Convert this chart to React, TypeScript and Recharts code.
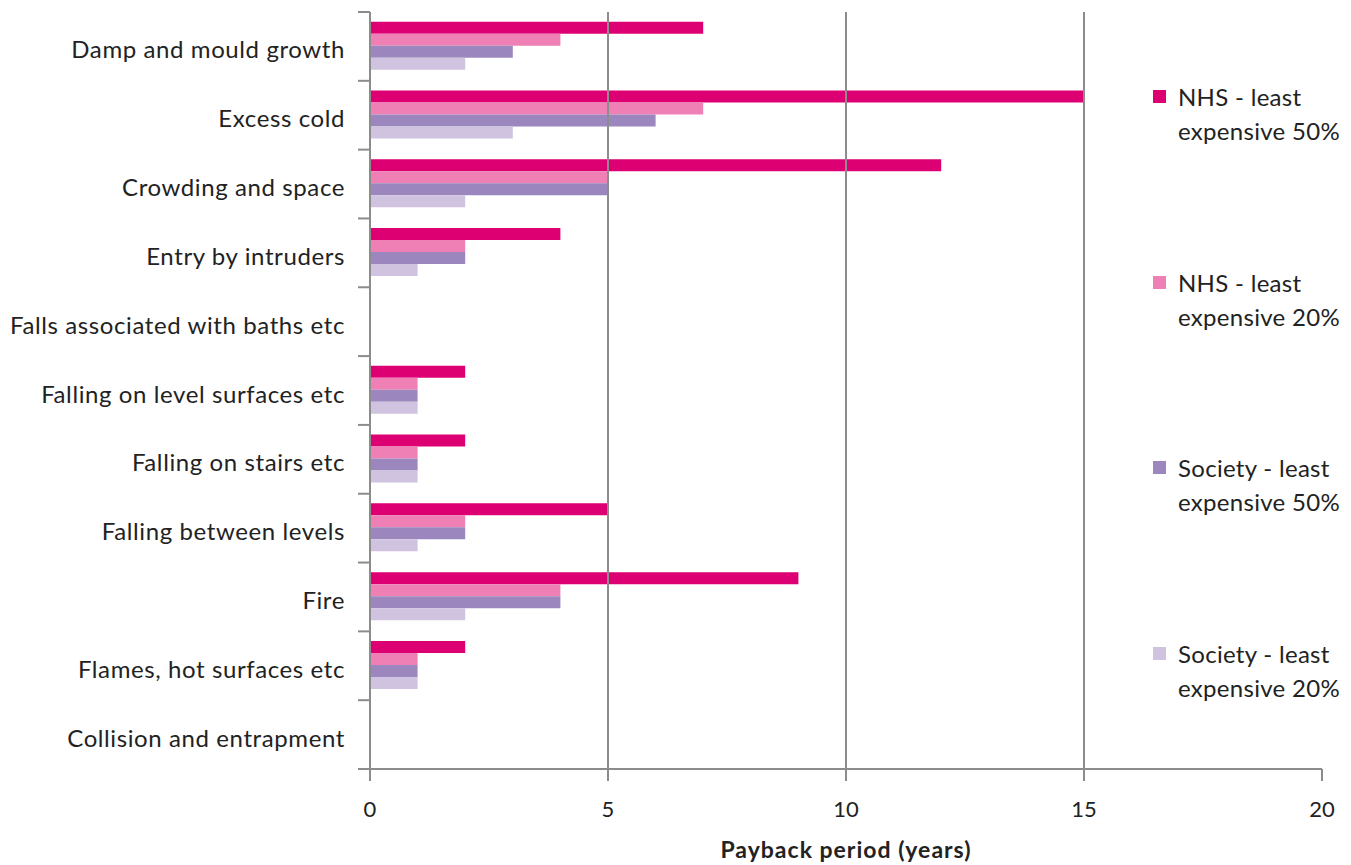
import { BarChart, Bar, XAxis, YAxis, ReferenceLine } from "recharts";

const categories = [
  "Damp and mould growth",
  "Excess cold",
  "Crowding and space",
  "Entry by intruders",
  "Falls associated with baths etc",
  "Falling on level surfaces etc",
  "Falling on stairs etc",
  "Falling between levels",
  "Fire",
  "Flames, hot surfaces etc",
  "Collision and entrapment",
];

const nhs50 = [7, 15, 12, 4, 0, 2, 2, 5, 9, 2, 0];
const nhs20 = [4, 7, 5, 2, 0, 1, 1, 2, 4, 1, 0];
const society50 = [3, 6, 5, 2, 0, 1, 1, 2, 4, 1, 0];
const society20 = [2, 3, 2, 1, 0, 1, 1, 1, 2, 1, 0];

const xTicks = [0, 5, 10, 15, 20];
const gridValues = [5, 10, 15];

const series = [
  { key: "nhs50", first: "NHS - least", second: "expensive 50%", color: "#dd0073" },
  { key: "nhs20", first: "NHS - least", second: "expensive 20%", color: "#ee80b5" },
  { key: "society50", first: "Society - least", second: "expensive 50%", color: "#9c86be" },
  { key: "society20", first: "Society - least", second: "expensive 20%", color: "#d0c3e0" },
];

const data = categories.map((name, i) => ({
  name,
  nhs50: nhs50[i],
  nhs20: nhs20[i],
  society50: society50[i],
  society20: society20[i],
}));

const W = 1351;
const H = 865;
const TOP = 12;
const X_AXIS_H = 96;
const PLOT_H = H - TOP - X_AXIS_H;
const BAND = PLOT_H / categories.length;
const FONT = "Lato, 'Open Sans', sans-serif";
const AXIS = "#8c8c8c";
const TEXT = "#222";

function CategoryTick(props: any) {
  const { x, y, payload, index } = props;
  const last = index === categories.length - 1;
  return (
    <g>
      <line x1={x - 12} x2={x} y1={y - BAND / 2} y2={y - BAND / 2} stroke={AXIS} strokeWidth={2} />
      {last && (
        <line x1={x - 12} x2={x} y1={y + BAND / 2} y2={y + BAND / 2} stroke={AXIS} strokeWidth={2} />
      )}
      <text
        x={x - 25}
        y={y}
        dy="0.5em"
        textAnchor="end"
        fill={TEXT}
        fontSize={24}
        letterSpacing={0.6}
        fontFamily={FONT}
      >
        {payload.value}
      </text>
    </g>
  );
}

export default function App() {
  return (
    <div style={{ position: "absolute", left: 0, top: 0, width: W, height: H, background: "#fff" }}>
      <BarChart
        width={W}
        height={H}
        data={data}
        layout="vertical"
        margin={{ top: TOP, right: 29, bottom: 0, left: 0 }}
        barCategoryGap="14%"
        barGap={0}
      >
        {gridValues.map((v) => (
          <ReferenceLine key={v} x={v} stroke={AXIS} strokeWidth={2} />
        ))}
        <XAxis
          type="number"
          domain={[0, 20]}
          ticks={xTicks}
          height={X_AXIS_H}
          tickSize={12}
          tickMargin={20}
          axisLine={{ stroke: AXIS, strokeWidth: 2 }}
          tickLine={{ stroke: AXIS, strokeWidth: 2 }}
          tick={{ fill: TEXT, fontSize: 22, fontFamily: FONT }}
          label={{
            value: "Payback period (years)",
            position: "insideBottom",
            offset: 7,
            fill: TEXT,
            fontSize: 23,
            fontWeight: "bold",
            letterSpacing: 1,
            fontFamily: FONT,
          }}
        />
        <YAxis
          type="category"
          dataKey="name"
          width={370}
          tickSize={0}
          tickMargin={0}
          tickLine={false}
          axisLine={{ stroke: AXIS, strokeWidth: 2 }}
          tick={<CategoryTick />}
          interval={0}
        />
        {series.map((s) => (
          <Bar
            key={s.key}
            dataKey={s.key}
            name={`${s.first} ${s.second}`}
            fill={s.color}
            isAnimationActive={false}
          />
        ))}
      </BarChart>
      {series.map((s, i) => (
        <div
          key={s.key}
          style={{
            position: "absolute",
            left: 1153,
            top: 80 + i * 185.5,
            fontFamily: FONT,
            fontSize: 24,
            letterSpacing: 0.3,
            lineHeight: "34px",
            color: TEXT,
            whiteSpace: "nowrap",
          }}
        >
          <div style={{ position: "absolute", left: 0, top: 10, width: 13, height: 13, background: s.color }} />
          <div style={{ position: "absolute", left: 25, top: 0 }}>
            <div>{s.first}</div>
            <div>{s.second}</div>
          </div>
        </div>
      ))}
    </div>
  );
}
